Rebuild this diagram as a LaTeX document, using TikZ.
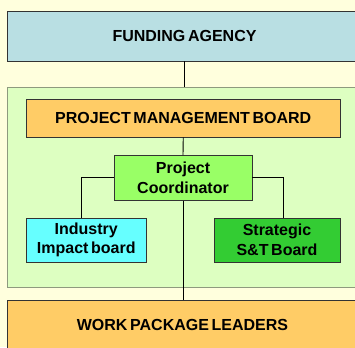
\documentclass[tikz,border=0pt]{standalone}
\usepackage{fontspec}
\setmainfont{Liberation Sans}[WordSpace=0.6]
\usetikzlibrary{shadows}

\definecolor{paper}{HTML}{FFFFDD}
\definecolor{agencyblue}{HTML}{B9DFE3}
\definecolor{teamgreen}{HTML}{DDFFC1}
\definecolor{teamedge}{HTML}{8E9A7E}
\definecolor{boardorange}{HTML}{FFCC66}
\definecolor{coordgreen}{HTML}{99FF66}
\definecolor{industrycyan}{HTML}{66FFFF}
\definecolor{stratgreen}{HTML}{33CC33}

\tikzset{
  box/.style={draw=black!80, line width=0.9pt, align=center, inner sep=0pt,
    font=\fontsize{16}{19.7}\selectfont\bfseries,
    drop shadow={shadow xshift=0.8pt, shadow yshift=-0.8pt, fill=black!35, opacity=0.6}},
  link/.style={draw=black, line width=0.9pt}
}

\begin{document}
\begin{tikzpicture}[x=1pt, y=-1pt]
    \useasboundingbox[fill=paper] (0,0) rectangle (355,347);
    % top and bottom bands run past the right edge
    \node (agency) [box, fill=agencyblue, minimum width=355, minimum height=50] at (184.5,36) {FUNDING AGENCY};
    \node (team) [draw=teamedge, line width=0.9pt, fill=teamgreen, minimum width=355, minimum height=200,
        drop shadow={shadow xshift=0.8pt, shadow yshift=-0.8pt, fill=black!30, opacity=0.5}] at (184.5,187) {};
    \node (board) [box, fill=boardorange, minimum width=313.5, minimum height=38] at (183.25,118) {PROJECT MANAGEMENT BOARD};
    \node (coord) [box, fill=coordgreen, minimum width=138, minimum height=44.5] at (183,177.8) {Project\\Coordinator};
    \node (industry) [box, fill=industrycyan, minimum width=119.5, minimum height=44] at (86.25,240) {Industry\\Impact board};
    \node (strategic) [box, fill=stratgreen, minimum width=126, minimum height=44] at (277,240) {Strategic\\S\&T Board};
    \node (leaders) [box, fill=boardorange, minimum width=355, minimum height=60] at (184.5,330) {};
    \node (leaderstext) [font=\fontsize{16}{19.7}\selectfont\bfseries] at (182.5,325) {WORK PACKAGE LEADERS};

    \draw[link] (agency.south) -- (team.north);
    \draw[link] (board.south) -- (coord.north);
    \draw[link] (coord.west) -| ([xshift=-4.5pt]industry.north);
    \draw[link] (coord.east) -| ([xshift=6pt]strategic.north);
    \draw[link] (coord.south) -- (coord.south |- leaders.north);
\end{tikzpicture}
\end{document}
